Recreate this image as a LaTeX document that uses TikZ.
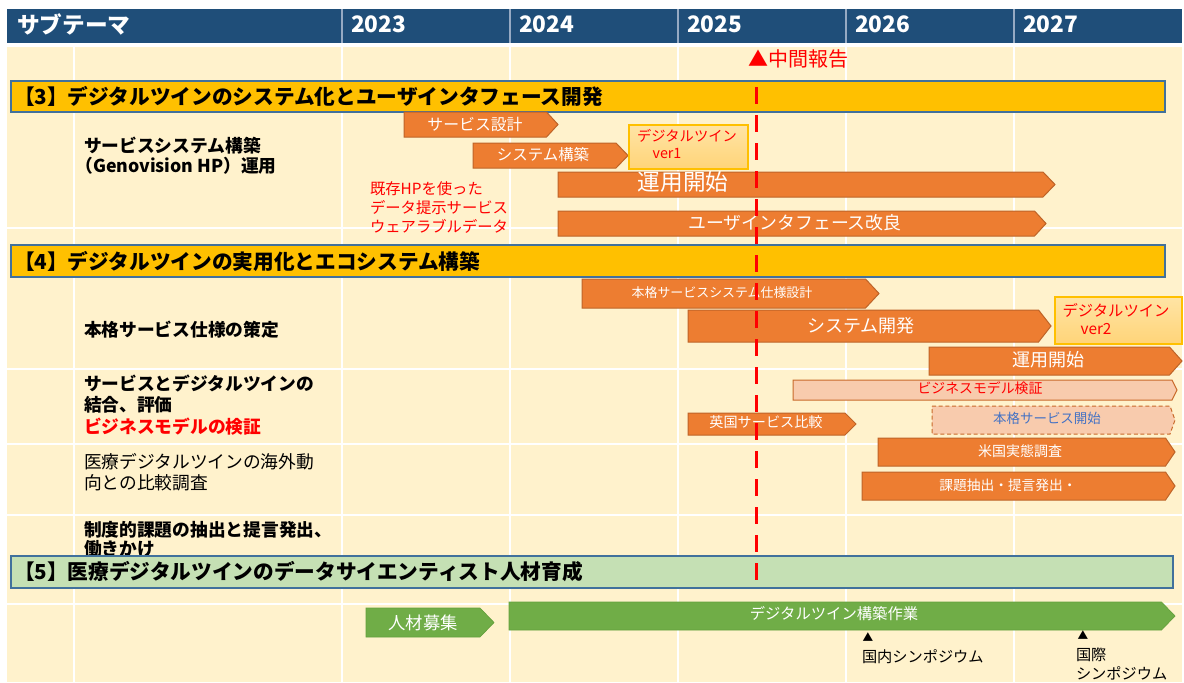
\documentclass[tikz,border=0pt]{standalone}
\usepackage{fontspec}
\setmainfont{Noto Sans CJK JP}
\definecolor{hdr}{RGB}{31,78,121}
\definecolor{hdrsep}{RGB}{150,170,195}
\definecolor{bodybg}{RGB}{255,242,204}
\definecolor{banY}{RGB}{255,192,0}
\definecolor{banG}{RGB}{197,224,180}
\definecolor{banLine}{RGB}{65,113,156}
\definecolor{org}{RGB}{237,125,49}
\definecolor{orgD}{RGB}{190,100,40}
\definecolor{pnk}{RGB}{248,203,173}
\definecolor{grn}{RGB}{112,173,71}
\definecolor{grnD}{RGB}{100,160,60}
\definecolor{verTop}{RGB}{255,228,165}
\definecolor{verBot}{RGB}{255,212,120}
\definecolor{verLine}{RGB}{255,192,0}
\definecolor{redT}{RGB}{255,0,0}
\definecolor{blueT}{RGB}{68,114,196}
\newcommand\fsz[2]{\fontsize{#1pt}{#2pt}\selectfont}
\newcommand\tlarrow[6]{\draw[#1] (#2,#3) -- ({#4-#6},#3) -- (#4,{(#3+#5)/2}) -- ({#4-#6},#5) -- (#2,#5) -- cycle;}
\begin{document}
\begin{tikzpicture}[x=0.75pt,y=-0.75pt,
  every node/.style={inner sep=0pt, outer sep=0pt},
  gridline/.style={white, line width=1.5pt},
  hdrtext/.style={anchor=west, text=white, font=\fsz{17}{20}\bfseries},
  banner/.style={draw=banLine, line width=0.9pt},
  bantext/.style={anchor=west, font=\fsz{15.5}{18}\bfseries},
  lbl/.style={anchor=west, align=left},
  oarrow/.style={fill=org, draw=orgD, line width=0.75pt},
  parrow/.style={fill=pnk, draw=org!85!black, line width=0.75pt},
  darrow/.style={fill=pnk, draw=org!85!black, line width=0.75pt, dash pattern=on 3pt off 2pt},
  garrow/.style={fill=grn, draw=grnD, line width=0.5pt},
  wtext/.style={text=white},
  verbox/.style={top color=verTop, bottom color=verBot, draw=verLine, line width=1pt},
  reddash/.style={redT, line width=2.25pt, dash pattern=on 12.75pt off 8.25pt}
]
\useasboundingbox (0,0) rectangle (1184,682);
\fill[white] (0,0) rectangle (1184,682);
% header
\fill[hdr] (7,9) rectangle (1182,43);
\foreach \x in {342,510,678,846,1014} \draw[hdrsep, line width=0.9pt] (\x,9) -- (\x,43);
\node[hdrtext] (h0) at (17,24) {サブテーマ};
\node[hdrtext] (h1) at (351,24) {2023};
\node[hdrtext] (h2) at (519,24) {2024};
\node[hdrtext] (h3) at (687,24) {2025};
\node[hdrtext] (h4) at (855,24) {2026};
\node[hdrtext] (h5) at (1023,24) {2027};
% body
\fill[bodybg] (7,47) rectangle (1182,682);
\foreach \x in {74,342,510,678,846,1014} \draw[gridline] (\x,47) -- (\x,682);
\foreach \y in {228,369,444,515,604} \draw[gridline] (7,\y) -- (1182,\y);
% milestone label
\node[anchor=west, text=redT, font=\fsz{15}{18}] (mid) at (748,59) {▲中間報告};
% banners
\draw[banner, fill=banY] (11,81) rectangle (1165,112);
\node[bantext] (b3) at (14,96.5) {【3】デジタルツインのシステム化とユーザインタフェース開発};
\draw[banner, fill=banY] (11,245) rectangle (1165,277);
\node[bantext] (b4) at (14,261) {【4】デジタルツインの実用化とエコシステム構築};
% left labels
\node[lbl, font=\fsz{13.3}{15}\bfseries] (l1) at (84,156) {サービスシステム構築\\\hspace*{-6.5pt}（Genovision HP）運用};
\node[lbl, text=redT, font=\fsz{11.5}{13.9}] (l1r) at (370,207.5) {既存HPを使った\\データ提示サービス\\ウェアラブルデータ};
\node[lbl, font=\fsz{13.3}{15}\bfseries] (l2) at (84,330) {本格サービス仕様の策定};
\node[lbl, font=\fsz{13.3}{16}\bfseries] (l3) at (84,405) {サービスとデジタルツインの\\結合、評価\\\textcolor{redT}{ビジネスモデルの検証}};
\node[lbl, font=\fsz{13.3}{15.8}] (l4) at (84,472) {医療デジタルツインの海外動\\向との比較調査};
\node[lbl, font=\fsz{13.3}{14.5}\bfseries] (l5) at (84,539.5) {制度的課題の抽出と提言発出、\\働きかけ};
% [5] banner
\draw[banner, fill=banG] (11,556) rectangle (1173,588);
\node[bantext] (b5) at (14,572) {【5】医療デジタルツインのデータサイエンティスト人材育成};
% [3] arrows
\tlarrow{oarrow}{404}{112}{558}{137}{11.5}
\node[wtext, font=\fsz{11.9}{14}] (a1) at (475,124) {サービス設計};
\tlarrow{oarrow}{473}{143}{628}{168}{12}
\node[wtext, font=\fsz{11.6}{14}] (a2) at (543,155) {システム構築};
\draw[verbox] (629,125) rectangle (748,169);
\node[text=redT, font=\fsz{10.7}{13}] (v1a) at (687,136) {デジタルツイン};
\node[text=redT, font=\fsz{10.7}{13}] (v1b) at (667,154) {ver1};
\tlarrow{oarrow}{558}{172}{1055}{197}{12}
\node[wtext, font=\fsz{17}{20}] (a3) at (683,182) {運用開始};
\tlarrow{oarrow}{558}{211}{1046}{236}{11.5}
\node[wtext, font=\fsz{13.4}{16}] (a4) at (795,223) {ユーザインタフェース改良};
% [4] arrows
\tlarrow{oarrow}{582}{279}{879}{308}{13.5}
\node[wtext, font=\fsz{9.7}{12}] (a5) at (722,293) {本格サービスシステム仕様設計};
\tlarrow{oarrow}{688}{310}{1051}{342}{12.5}
\node[wtext, font=\fsz{13.5}{16}] (a6) at (861,326) {システム開発};
\draw[verbox] (1055,297) rectangle (1182,344);
\node[text=redT, font=\fsz{11.5}{14}] (v2a) at (1116,310) {デジタルツイン};
\node[text=redT, font=\fsz{11.5}{14}] (v2b) at (1096,329) {ver2};
\tlarrow{oarrow}{929}{347}{1182}{375}{12.5}
\node[wtext, font=\fsz{13.5}{16}] (a7) at (1048,360) {運用開始};
\tlarrow{parrow}{793}{380}{1177}{400}{5}
\node[text=redT, font=\fsz{10.4}{12}] (a8) at (980,388) {ビジネスモデル検証};
\tlarrow{oarrow}{688}{413}{856}{435}{11}
\node[wtext, font=\fsz{10.6}{12}] (a9) at (766,422) {英国サービス比較};
\tlarrow{darrow}{932}{406}{1175}{434}{5}
\node[text=blueT, font=\fsz{10.1}{12}] (a10) at (1047,418) {本格サービス開始};
\tlarrow{oarrow}{878}{438}{1175}{466}{9.5}
\node[wtext, font=\fsz{10.5}{12}] (a11) at (1020,451.5) {米国実態調査};
\tlarrow{oarrow}{862}{472}{1175}{500}{9.5}
\node[wtext, font=\fsz{10.3}{12}] (a12) at (1008,485) {課題抽出・提言発出・};
% [5] arrows
\tlarrow{garrow}{366}{608}{494}{637}{14}
\node[wtext, font=\fsz{13}{15}] (a14) at (423,622.5) {人材募集};
\tlarrow{garrow}{509}{602}{1175}{630}{13.5}
\node[wtext, font=\fsz{11.5}{14}] (a13) at (834,614) {デジタルツイン構築作業};
% symposium markers
\node[font=\fsz{8}{10}] (s1m) at (868,637) {▲};
\node[anchor=west, font=\fsz{11.4}{14}] (s1) at (862,657) {国内シンポジウム};
\node[font=\fsz{8}{10}] (s2m) at (1083,635) {▲};
\node[lbl, font=\fsz{11.4}{14}] (s2) at (1076,664) {国際\\シンポジウム};
% mid-term dashed line
\coordinate (mtop) at (756,87);
\coordinate (mbot) at (756,588);
\draw[reddash] (mtop) -- (mbot);
\end{tikzpicture}
\end{document}
